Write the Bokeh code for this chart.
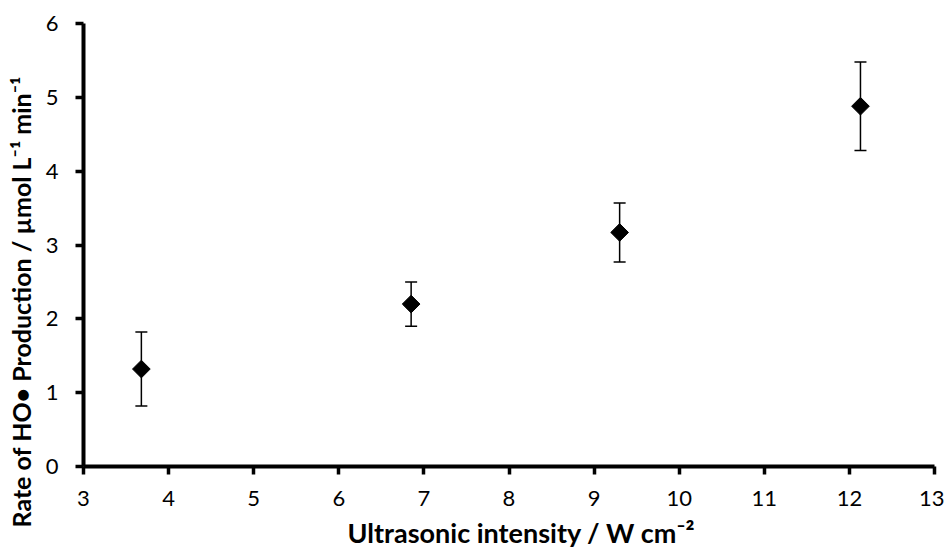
import numpy as np
from bokeh.plotting import figure
from bokeh.models import ColumnDataSource, Whisker, TeeHead, FixedTicker, Range1d, Title
from bokeh.embed import file_html
from bokeh.resources import INLINE

# data
intensity = [3.68, 6.85, 9.30, 12.13]
rate = [1.32, 2.20, 3.17, 4.88]
err = [0.50, 0.30, 0.40, 0.60]
x_ticks = [3, 4, 5, 6, 7, 8, 9, 10, 11, 12, 13]
y_ticks = [0, 1, 2, 3, 4, 5, 6]
x_title = "Ultrasonic intensity / W cm\u207b\u00b2"
y_title = "Rate of HO\u2022 Production / \u00b5mol L\u207b\u00b9 min\u207b\u00b9"

src = ColumnDataSource(dict(
    x=intensity, y=rate,
    lo=[r - e for r, e in zip(rate, err)],
    hi=[r + e for r, e in zip(rate, err)],
))

FONT = "Lato"

p = figure(width=944, height=553, output_backend="svg", toolbar_location=None,
           x_range=Range1d(3, 13), y_range=Range1d(0, 6),
           min_border_left=83, min_border_right=10, min_border_top=23, min_border_bottom=87)
p.outline_line_color = None
p.grid.visible = False
p.background_fill_color = "white"
p.border_fill_color = "white"

w = Whisker(source=src, base="x", lower="lo", upper="hi", line_width=1.5, line_color="black",
            upper_head=TeeHead(size=12, line_width=1.5, line_color="black"),
            lower_head=TeeHead(size=12, line_width=1.5, line_color="black"))
p.add_layout(w)
p.scatter("x", "y", source=src, marker="square", size=12.5, angle=np.pi / 4,
          fill_color="black", line_color="black")

for ax in (p.xaxis[0], p.yaxis[0]):
    ax.axis_line_width = 4
    ax.axis_line_color = "black"
    ax.major_tick_line_width = 3.5
    ax.major_tick_line_color = "black"
    ax.major_tick_out = 8
    ax.major_tick_in = 0
    ax.minor_tick_line_color = None
    ax.major_label_text_font = FONT
    ax.major_label_text_font_size = "22px"
    ax.major_label_text_color = "black"

p.xaxis.ticker = FixedTicker(ticks=x_ticks)
p.yaxis.ticker = FixedTicker(ticks=y_ticks)
p.xaxis.major_label_standoff = 16
p.yaxis.major_label_standoff = 17

xt = Title(text=x_title, text_font=FONT, text_font_style="bold", text_font_size="27px",
           text_color="black", align="left", offset=264, standoff=10, vertical_align="bottom",
           text_line_height=0.6)
yt = Title(text=y_title, text_font=FONT, text_font_style="bold", text_font_size="25px",
           text_color="black", align="left", offset=-61, standoff=10, vertical_align="top")
p.add_layout(xt, "below")
p.add_layout(yt, "left")

open("out.html", "w").write(file_html(p, INLINE))
